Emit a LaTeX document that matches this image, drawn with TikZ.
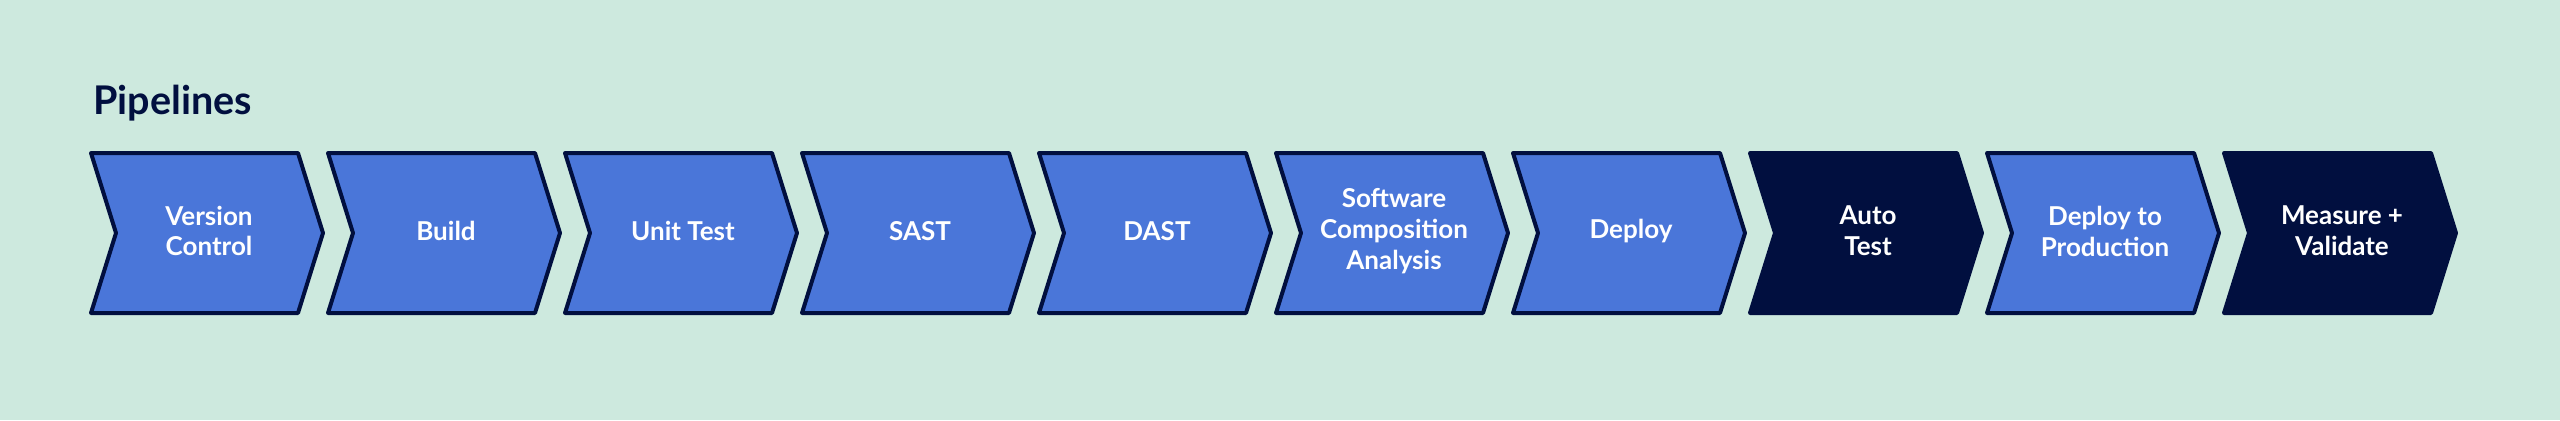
\documentclass[tikz,border=0pt]{standalone}
\usepackage{fontspec}
\setmainfont{Lato}
\usetikzlibrary{positioning}
\definecolor{bgmint}{HTML}{CDE9DE}
\definecolor{stepblue}{HTML}{4A76D9}
\definecolor{navy}{HTML}{010F3F}

\begin{document}
\begin{tikzpicture}[x=0.02cm,y=0.02cm]
  \tikzstyle{chevron} = [draw=navy, line width=0.08cm, line join=round];
  \tikzstyle{steptext} = [text=white, align=center, inner sep=0,
    font=\bfseries\fontsize{14.8}{17.6}\selectfont];
  \fill[bgmint] (0,0) rectangle (2560,420);
  \useasboundingbox (0,0) rectangle (2560,420);
  \node[anchor=base west, text=navy, inner sep=0,
    font=\bfseries\fontsize{22.5}{25}\selectfont] (title) at (93,306) {Pipelines};
  \foreach \i/\txt/\col in {0/Version\\Control/stepblue,
                             1/Build/stepblue,
                             2/Unit Test/stepblue,
                             3/SAST/stepblue,
                             4/DAST/stepblue,
                             5/Software\\Composition\\Analysis/stepblue,
                             6/Deploy/stepblue,
                             7/Auto\\Test/navy,
                             8/Deploy to\\Production/stepblue,
                             9/Measure +\\Validate/navy}{
    \draw[chevron, fill=\col] (91+237*\i,267) -- ++(207,0) -- ++(25,-80)
      -- ++(-25,-80) -- ++(-207,0) -- ++(25,80) -- cycle;
    \node[steptext] (step\i) at (209+237*\i,189) {\txt};
  }
\end{tikzpicture}
\end{document}
